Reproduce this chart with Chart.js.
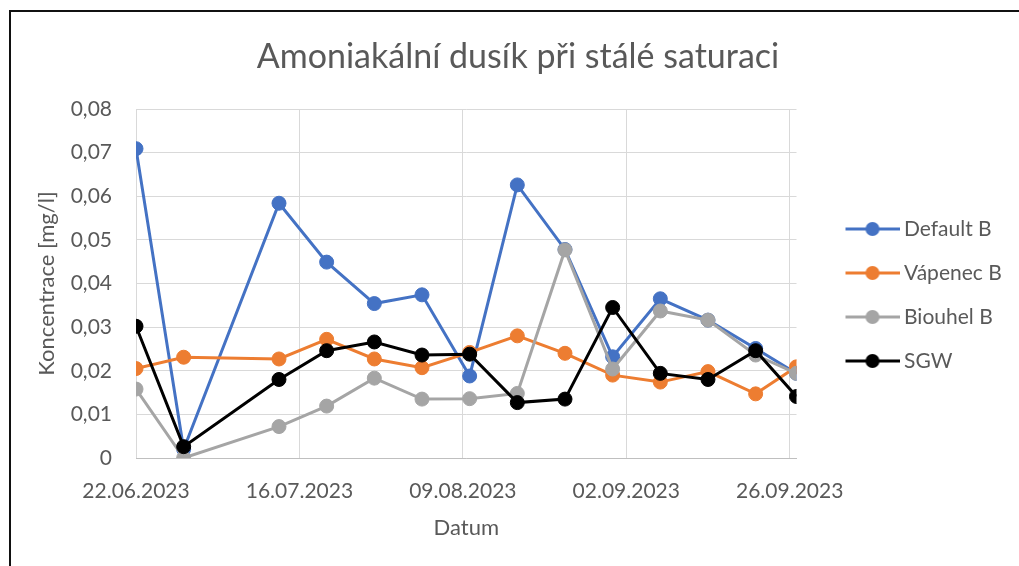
<!DOCTYPE html>
<html>
<head>
<meta charset="utf-8">
<script src="https://cdn.jsdelivr.net/npm/chart.js@4.4.0/dist/chart.umd.min.js"></script>
<style>
  html, body { margin: 0; padding: 0; background: #fff; overflow: hidden; }
  #frame { position: absolute; left: 9px; top: 10px; width: 1100px; height: 700px; border-left: 2px solid #111; border-top: 2px solid #111; }
  #wrap { position: absolute; left: 0; top: 0; width: 1019px; height: 566px; }
</style>
</head>
<body>
<div id="frame"></div>
<div id="wrap"><canvas id="chart"></canvas></div>
<script>
// Datum odběru
const dates = ["22.06.2023", "29.06.2023", "13.07.2023", "20.07.2023", "27.07.2023",
  "03.08.2023", "10.08.2023", "17.08.2023", "24.08.2023", "31.08.2023",
  "07.09.2023", "14.09.2023", "21.09.2023", "27.09.2023"];

// Koncentrace [mg/l]
const defaultB = [0.0709, 0.002, 0.0584, 0.0449, 0.0354, 0.0374, 0.0188, 0.0626, 0.0478, 0.0232, 0.0365, 0.0316, 0.0251, 0.0194];
const vapenecB = [0.0205, 0.0231, 0.0227, 0.0272, 0.0227, 0.0207, 0.0242, 0.028, 0.024, 0.019, 0.0174, 0.0198, 0.0147, 0.0209];
const biouhelB = [0.0158, 0, 0.0072, 0.0119, 0.0183, 0.0135, 0.0136, 0.0148, 0.0477, 0.0204, 0.0337, 0.0316, 0.0236, 0.0194];
const sgw = [0.0302, 0.0026, 0.018, 0.0246, 0.0266, 0.0236, 0.0238, 0.0127, 0.0135, 0.0345, 0.0194, 0.018, 0.0246, 0.0141];

const tickDates = ["22.06.2023", "16.07.2023", "09.08.2023", "02.09.2023", "26.09.2023"];

const textColor = "#595959";
const fontFamily = "Lato";
const legendFontSize = 21;
const legendPadding = 23;
const legendBoxWidth = 74;

// dny od prvního odběru
function dayOf(s) {
  const [d, m, y] = s.split(".").map(Number);
  return Date.UTC(y, m - 1, d) / 86400000;
}
const day0 = dayOf(dates[0]);
const toX = (s) => dayOf(s) - day0;

function points(values) {
  return dates.map((d, i) => ({ x: toX(d), y: values[i] }));
}

// ikonka legendy: čára s kolečkem
function legendIcon(color) {
  const c = document.createElement("canvas");
  c.width = 86;
  c.height = 18;
  const g = c.getContext("2d");
  g.strokeStyle = color;
  g.lineWidth = 3;
  g.beginPath();
  g.moveTo(32, 9);
  g.lineTo(86, 9);
  g.stroke();
  g.fillStyle = color;
  g.beginPath();
  g.arc(59, 9, 7, 0, Math.PI * 2);
  g.fill();
  return c;
}

function series(label, values, color) {
  return {
    label: label,
    data: points(values),
    borderColor: color,
    backgroundColor: color,
    borderWidth: 3,
    pointRadius: 7,
    pointHoverRadius: 7,
    pointBorderWidth: 1,
    pointBorderColor: color,
    pointBackgroundColor: color,
    tension: 0,
    icon: legendIcon(color),
  };
}

const datasets = [
  series("Default B", defaultB, "#4472C4"),
  series("Vápenec B", vapenecB, "#ED7D31"),
  series("Biouhel B", biouhelB, "#A5A5A5"),
  series("SGW", sgw, "#000000"),
];
// Excel kreslí poslední řadu navrch
datasets.forEach((ds, i) => (ds.order = datasets.length - i));

// šířka legendy -> okraje
const measure = document.createElement("canvas").getContext("2d");
measure.font = legendFontSize + "px " + fontFamily;
const maxTextWidth = Math.max(...datasets.map((ds) => measure.measureText(ds.label).width));
const legendWidth = legendPadding + legendBoxWidth + legendFontSize + maxTextWidth;
const padRight = 223 - legendWidth;
const padLeft = 17 + padRight;

const ctx = document.getElementById("chart").getContext("2d");

new Chart(ctx, {
  type: "line",
  data: { datasets: datasets },
  options: {
    responsive: true,
    maintainAspectRatio: false,
    animation: false,
    layout: { padding: { left: padLeft, right: padRight, top: 0, bottom: 0 } },
    plugins: {
      title: {
        display: true,
        text: "Amoniakální dusík při stálé saturaci",
        color: textColor,
        font: { family: fontFamily, size: 34, weight: 400, lineHeight: 1.2 },
        padding: { top: 36.6, bottom: 31.6 },
      },
      legend: {
        position: "right",
        title: { display: true, text: " ", font: { size: 4, lineHeight: 1 }, padding: { top: 10, bottom: 10 } },
        labels: {
          usePointStyle: true,
          pointStyleWidth: legendBoxWidth,
          padding: legendPadding,
          color: textColor,
          font: { family: fontFamily, size: legendFontSize },
          generateLabels: (chart) =>
            chart.data.datasets.map((ds, i) => ({
              text: ds.label,
              fillStyle: ds.borderColor,
              strokeStyle: ds.borderColor,
              lineWidth: 0,
              pointStyle: ds.icon,
              hidden: false,
              fontColor: textColor,
              datasetIndex: i,
            })),
        },
      },
      tooltip: { enabled: false },
    },
    scales: {
      x: {
        type: "linear",
        min: 0,
        max: toX(dates[dates.length - 1]),
        afterBuildTicks: (scale) => {
          scale.ticks = tickDates.map((d) => ({ value: toX(d) }));
        },
        afterFit: (scale) => {
          scale.height = 108;
        },
        ticks: {
          autoSkip: false,
          maxRotation: 0,
          padding: 21,
          color: textColor,
          font: { family: fontFamily, size: 21 },
          callback: (value, index) => tickDates[index],
        },
        grid: { color: "#d9d9d9", lineWidth: 1, drawTicks: false },
        border: { display: true, color: "#bfbfbf", width: 1 },
        title: {
          display: true,
          text: "Datum",
          color: textColor,
          font: { family: fontFamily, size: 22, lineHeight: 1.2 },
          padding: { top: 0, bottom: 24.8 },
        },
      },
      y: {
        min: 0,
        max: 0.08,
        afterFit: (scale) => {
          scale.width = 136 - padLeft;
        },
        ticks: {
          stepSize: 0.01,
          padding: 24,
          color: textColor,
          font: { family: fontFamily, size: 21 },
          callback: (v) => (v === 0 ? "0" : v.toFixed(2).replace(".", ",")),
        },
        grid: { color: "#d9d9d9", lineWidth: 1, drawTicks: false },
        border: { display: false },
        title: {
          display: true,
          text: "Koncentrace [mg/l]",
          color: textColor,
          font: { family: fontFamily, size: 22, lineHeight: 1.2 },
          padding: { top: 47 - padLeft - 13.2, bottom: 0 },
        },
      },
    },
  },
});
</script>
</body>
</html>
